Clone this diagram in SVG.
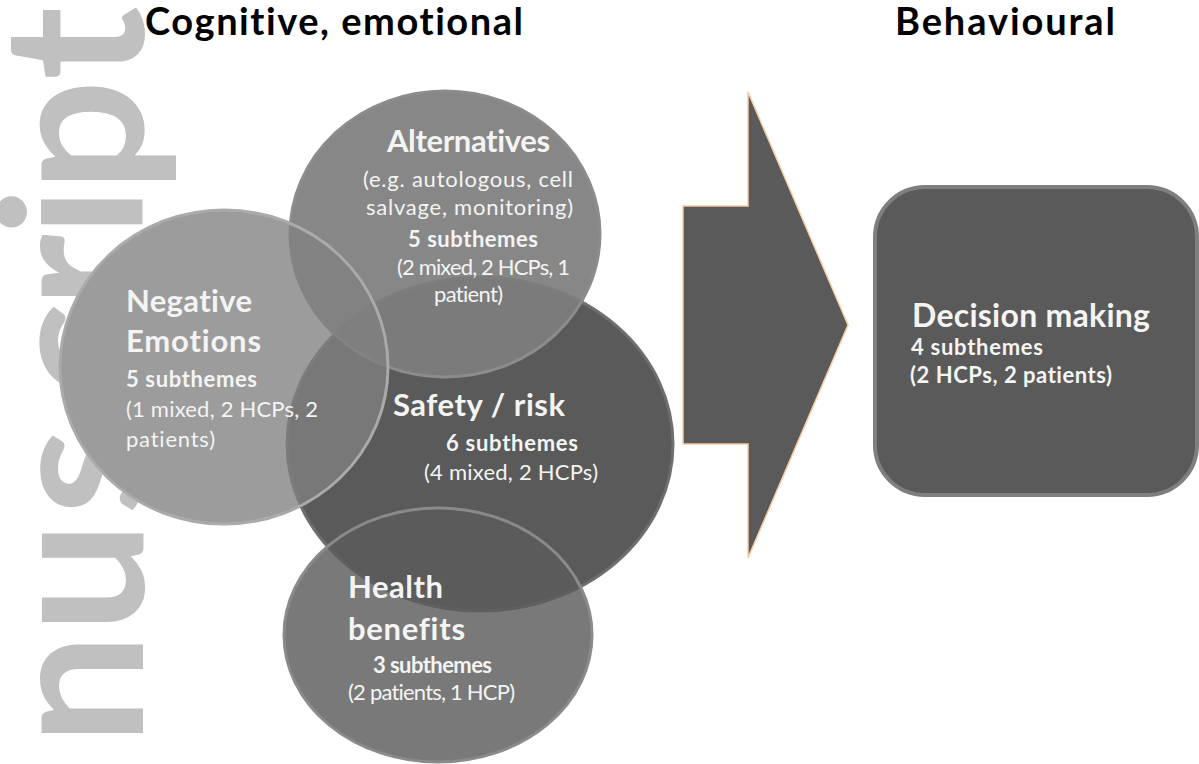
<svg xmlns="http://www.w3.org/2000/svg" width="1199" height="764" viewBox="0 0 1199 764">
<style>
text{font-variant-ligatures:none;font-feature-settings:"liga" 0,"clig" 0}
.t{font-family:Lato,"Open Sans","DejaVu Sans",sans-serif;fill:#f4f4f4}
.b{font-weight:bold}
.h{font-family:Lato,"Open Sans","DejaVu Sans",sans-serif;font-weight:bold;fill:#000;font-size:38px}
.wm{font-family:Lato,"Open Sans","DejaVu Sans",sans-serif;font-weight:bold;fill:#c0c0c0;font-size:198px}
.big{font-size:31px}
.mid{font-size:22px}
.under{fill:#ffffff}
</style>
<rect width="1199" height="764" fill="#ffffff"/>
<text class="wm" transform="translate(143,0) rotate(-90)" x="-1030 -860 -745 -633 -515 -398 -308 -237 -192 -80" y="0">manuscript</text>
<g id="underlay">
<ellipse class="under" cx="480" cy="444" rx="194" ry="168"/>
<ellipse class="under" cx="445" cy="234" rx="156" ry="144"/>
<ellipse class="under" cx="224" cy="367" rx="165" ry="158"/>
<ellipse class="under" cx="438" cy="635" rx="155" ry="128"/>
</g>
<text class="h" x="145" y="35" textLength="378">Cognitive, emotional</text>
<text class="h" x="895" y="35" textLength="220">Behavioural</text>
<g id="safety">
<ellipse cx="480" cy="444" rx="193" ry="167" fill="#5a5a5a" stroke="#6e6e6e" stroke-width="3"/>
<text class="t b big" x="393" y="416" textLength="172">Safety / risk</text>
<text class="t b mid" x="446" y="451" textLength="132">6 subthemes</text>
<text class="t mid" x="424" y="480" textLength="174">(4 mixed, 2 HCPs)</text>
</g>
<g id="alternatives">
<ellipse cx="445" cy="234" rx="155" ry="143" fill="#7e7e7e" fill-opacity="0.93" stroke="#8c8c8c" stroke-width="3"/>
<text class="t b big" x="387" y="152" textLength="163">Alternatives</text>
<text class="t mid" x="363" y="187" textLength="210">(e.g. autologous, cell</text>
<text class="t mid" x="366" y="215" textLength="207">salvage, monitoring)</text>
<text class="t b mid" x="408" y="247" textLength="130">5 subthemes</text>
<text class="t mid" x="397" y="275" textLength="173">(2 mixed, 2 HCPs, 1</text>
<text class="t mid" x="434" y="302" textLength="69">patient)</text>
</g>
<g id="negative">
<ellipse cx="224" cy="367" rx="164" ry="157" fill="#808080" fill-opacity="0.78" stroke="#aaaaaa" stroke-width="3"/>
<text class="t b big" x="126" y="312" textLength="126">Negative</text>
<text class="t b big" x="126" y="352" textLength="135">Emotions</text>
<text class="t b mid" x="126" y="387" textLength="131">5 subthemes</text>
<text class="t mid" x="126" y="417" textLength="192">(1 mixed, 2 HCPs, 2</text>
<text class="t mid" x="126" y="447" textLength="89">patients)</text>
</g>
<g id="health">
<ellipse cx="438" cy="635" rx="154" ry="127" fill="#5c5c5c" fill-opacity="0.82" stroke="#8a8a8a" stroke-width="3"/>
<text class="t b big" x="348" y="598" textLength="95">Health</text>
<text class="t b big" x="348" y="640" textLength="117">benefits</text>
<text class="t b mid" x="373" y="673" textLength="119">3 subthemes</text>
<text class="t mid" x="348" y="700" textLength="167">(2 patients, 1 HCP)</text>
</g>
<g id="connectors">
<polygon points="683,206 748,206 748,92 848,325 748,558 748,444 683,444" fill="#5a5a5a" stroke="#f9cba0" stroke-width="1.5"/>
</g>
<g id="decision">
<rect x="875" y="187" width="322" height="308" rx="50" ry="50" fill="#5a5a5a" stroke="#7f7f7f" stroke-width="4"/>
<text class="t b" x="912" y="327" font-size="32" textLength="238">Decision making</text>
<text class="t b mid" x="911" y="355" textLength="132">4 subthemes</text>
<text class="t b mid" x="910" y="383" textLength="202">(2 HCPs, 2 patients)</text>
</g>
</svg>
